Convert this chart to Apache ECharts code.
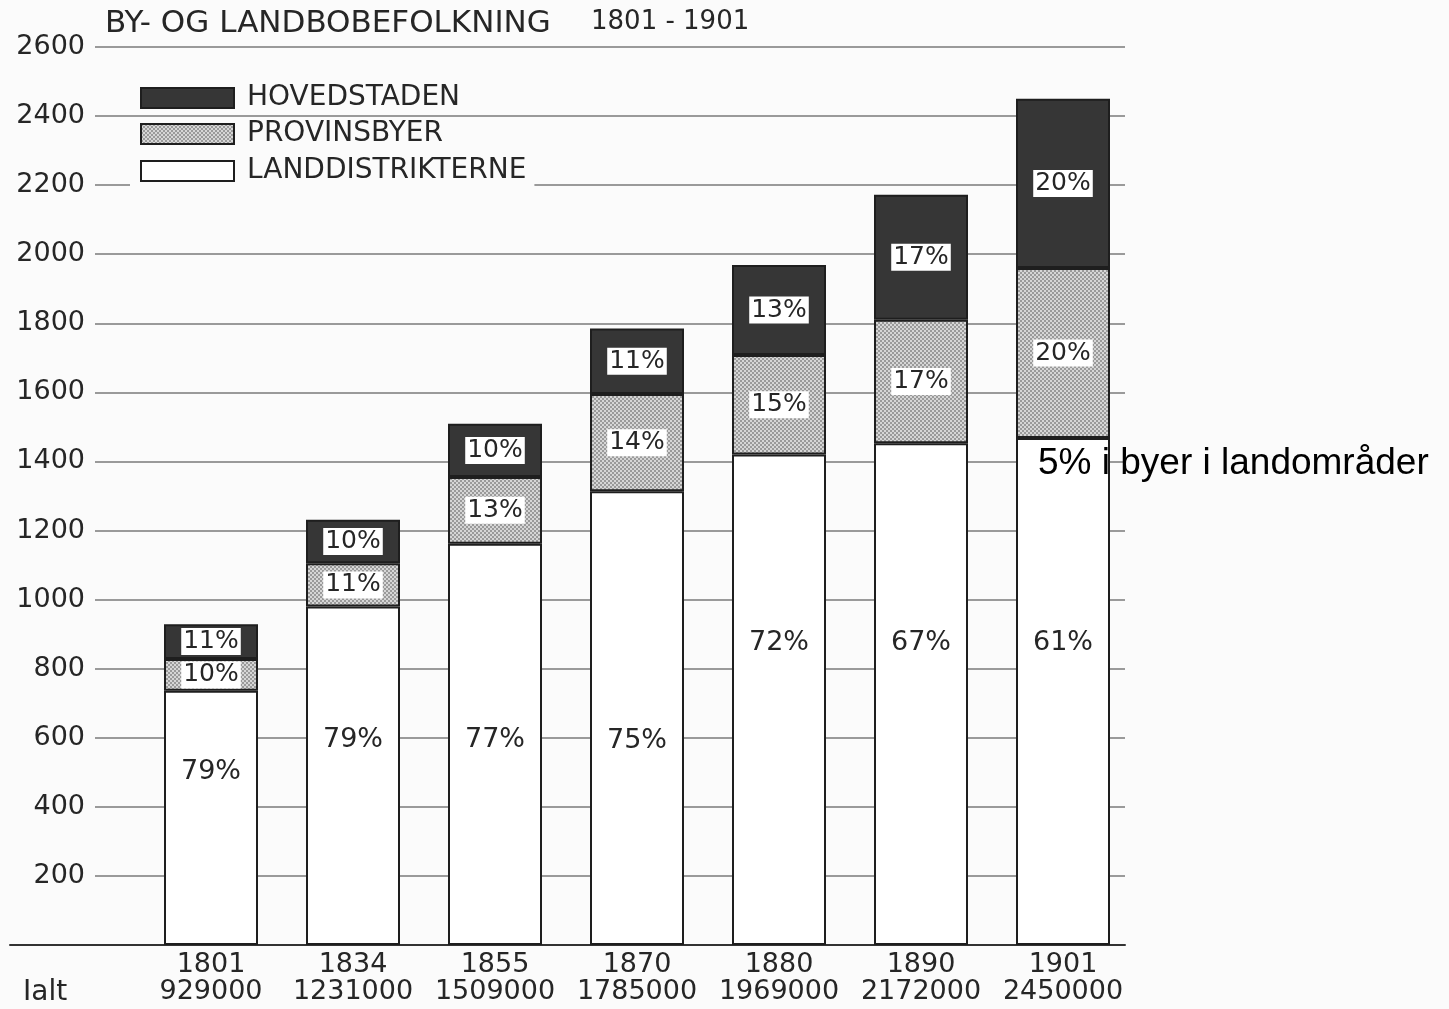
<!DOCTYPE html>
<html>
<head>
<meta charset="utf-8">
<script src="https://cdn.jsdelivr.net/npm/echarts@6/dist/echarts.min.js"></script>
<style>
html,body{margin:0;padding:0;background:#fbfbfb;}
#chart{width:1449px;height:1009px;}
</style>
</head>
<body>
<div id="chart"></div>
<script>
// ---------- data ----------
const years = ['1801', '1834', '1855', '1870', '1880', '1890', '1901'];
const totals = ['929000', '1231000', '1509000', '1785000', '1969000', '2172000', '2450000'];
// population in thousands
const landdistrikterne = [736, 980, 1162, 1314, 1420, 1453, 1468];
const provinsbyer = [92, 125, 193, 281, 288, 357, 492];
const hovedstaden = [101, 126, 154, 190, 261, 362, 490];
const hovedPct = ['11%', '10%', '10%', '11%', '13%', '17%', '20%'];
const provPct = ['10%', '11%', '13%', '14%', '15%', '17%', '20%'];
const landPct = ['79%', '79%', '77%', '75%', '72%', '67%', '61%'];
const yTicks = [0, 200, 400, 600, 800, 1000, 1200, 1400, 1600, 1800, 2000, 2200, 2400, 2600];

// ---------- layout / style ----------
const landLabelAnchor = [500, 595, 595, 590, 875, 875, 875];
const FONT = "'DejaVu Sans', sans-serif";
const INK = '#262626';
const BG = '#fbfbfb';

function makePattern() {
  const c = document.createElement('canvas');
  c.width = 4; c.height = 4;
  const g = c.getContext('2d');
  g.fillStyle = '#d6d6d6'; g.fillRect(0, 0, 4, 4);
  g.fillStyle = '#9a9a9a';
  g.fillRect(0, 0, 2, 2); g.fillRect(2, 2, 2, 2);
  return c;
}
const grayPattern = { image: makePattern(), repeat: 'repeat' };

const boxLabel = {
  show: true, position: 'inside', color: INK, fontFamily: FONT, fontSize: 25,
  backgroundColor: '#fff', padding: [2, 2, 0, 2]
};

const chart = echarts.init(document.getElementById('chart'), null, { renderer: 'canvas' });

function legendFor(name, top) {
  return {
    data: [{ name: name, icon: 'rect' }], left: 130, top: top, orient: 'vertical',
    itemWidth: 93, itemHeight: 20, itemGap: 0,
    backgroundColor: BG, padding: [2, 8, 2, 10],
    selectedMode: false,
    textStyle: { fontFamily: FONT, fontSize: 28, color: INK, padding: [0, 0, 0, 8] }
  };
}

const option = {
  backgroundColor: BG,
  animation: false,
  title: [
    { text: 'BY- OG LANDBOBEFOLKNING', left: 100, top: 3,
      textStyle: { fontFamily: FONT, fontSize: 31, fontWeight: 'normal', color: INK } },
    { text: '1801 - 1901', left: 586, top: 4,
      textStyle: { fontFamily: FONT, fontSize: 26, fontWeight: 'normal', color: INK } },
    { text: 'Ialt', left: 18, top: 974,
      textStyle: { fontFamily: FONT, fontSize: 28, fontWeight: 'normal', color: INK } },
    { text: '5% i byer i landområder', left: 1033, top: 440,
      textStyle: { fontFamily: "'Liberation Sans', Arial, sans-serif", fontSize: 37, fontWeight: 'normal', color: '#000' } }
  ],
  legend: [
    legendFor('HOVEDSTADEN', 82),
    legendFor('PROVINSBYER', 118),
    legendFor('LANDDISTRIKTERNE', 155)
  ],
  grid: [
    { left: 95, right: 324, top: 47, bottom: 64 },
    { left: 140, right: 315, top: 47, bottom: 64 },
    { left: 10, right: 324, top: 47, bottom: 64 }
  ],
  xAxis: [
    { gridIndex: 0, type: 'category', data: years, show: false },
    { gridIndex: 1, type: 'category', data: years,
      axisLine: { show: false }, axisTick: { show: false },
      axisLabel: { interval: 0, hideOverlap: false, margin: 6, fontFamily: FONT, fontSize: 27,
        color: INK, lineHeight: 27, formatter: (v, i) => v + '\n' + totals[i] } },
    { gridIndex: 2, type: 'category', data: years,
      axisLine: { show: true, lineStyle: { color: '#333', width: 2 } },
      axisTick: { show: false }, axisLabel: { show: false } }
  ],
  yAxis: [
    { gridIndex: 0, type: 'value', min: yTicks[0], max: yTicks[yTicks.length - 1], interval: 200,
      axisLine: { show: false }, axisTick: { show: false },
      axisLabel: { margin: 10, fontFamily: FONT, fontSize: 27, color: INK,
        formatter: v => (v === 0 ? '' : String(v)) },
      splitLine: { show: true, lineStyle: { color: '#7a7a7a', width: 1.5 } } },
    { gridIndex: 1, type: 'value', min: 0, max: 2600, interval: 200, show: false, splitLine: { show: false } },
    { gridIndex: 2, type: 'value', min: 0, max: 2600, show: false, splitLine: { show: false } }
  ],
  series: [
    { name: 'LANDDISTRIKTERNE', type: 'bar', stack: 'pop', xAxisIndex: 1, yAxisIndex: 1,
      barWidth: 94, data: landdistrikterne,
      itemStyle: { color: '#fff', borderColor: '#1e1e1e', borderWidth: 2 } },
    { name: 'PROVINSBYER', type: 'bar', stack: 'pop', xAxisIndex: 1, yAxisIndex: 1,
      barWidth: 94, data: provinsbyer,
      itemStyle: { color: grayPattern, borderColor: '#1e1e1e', borderWidth: 2 },
      label: Object.assign({}, boxLabel, { formatter: p => provPct[p.dataIndex] }) },
    { name: 'HOVEDSTADEN', type: 'bar', stack: 'pop', xAxisIndex: 1, yAxisIndex: 1,
      barWidth: 94, data: hovedstaden,
      itemStyle: { color: '#363636', borderColor: '#1e1e1e', borderWidth: 2 },
      label: Object.assign({}, boxLabel, { formatter: p => hovedPct[p.dataIndex] }) },
    { name: 'landPctLabels', type: 'scatter', xAxisIndex: 1, yAxisIndex: 1,
      data: landLabelAnchor, symbolSize: 0, itemStyle: { color: '#fff', opacity: 1 },
      silent: true, z: 5,
      label: { show: true, position: 'inside', color: INK, textBorderWidth: 0,
        fontFamily: FONT, fontSize: 27, formatter: p => landPct[p.dataIndex] } }
  ]
};
chart.setOption(option);
</script>
</body>
</html>
